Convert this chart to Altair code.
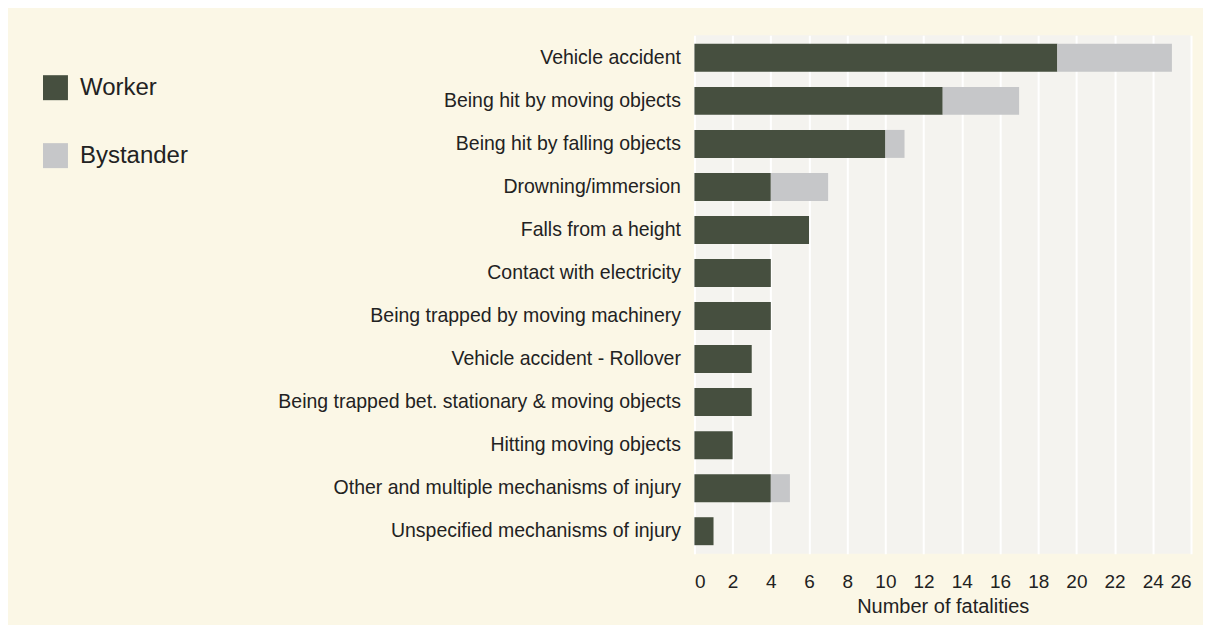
import altair as alt
import pandas as pd

categories = [
    "Vehicle accident",
    "Being hit by moving objects",
    "Being hit by falling objects",
    "Drowning/immersion",
    "Falls from a height",
    "Contact with electricity",
    "Being trapped by moving machinery",
    "Vehicle accident - Rollover",
    "Being trapped bet. stationary & moving objects",
    "Hitting moving objects",
    "Other and multiple mechanisms of injury",
    "Unspecified mechanisms of injury",
]
worker = [19, 13, 10, 4, 6, 4, 4, 3, 3, 2, 4, 1]
bystander = [6, 4, 1, 3, 0, 0, 0, 0, 0, 0, 1, 0]
x_ticks = list(range(0, 27, 2))

rows = []
for c, w, b in zip(categories, worker, bystander):
    rows.append({"category": c, "type": "Worker", "value": w, "ord": 0})
    rows.append({"category": c, "type": "Bystander", "value": b, "ord": 1})
df = pd.DataFrame(rows)

FONT = "Liberation Sans"

chart = alt.Chart(df).mark_bar().encode(
    y=alt.Y("category:N", sort=categories, title=None,
            scale=alt.Scale(paddingInner=0.35, paddingOuter=0.2),
            axis=alt.Axis(labelFontSize=19.5, labelColor="#222222", labelPadding=14,
                          ticks=False, domain=False, labelFont=FONT,
                          labelLimit=600)),
    x=alt.X("value:Q", stack="zero", title="Number of fatalities",
            scale=alt.Scale(domain=[0, 26], nice=False),
            axis=alt.Axis(values=x_ticks, labelFontSize=19, labelColor="#222222",
                          labelPadding=19, ticks=False, domain=False,
                          grid=True, gridColor="#ffffff", gridWidth=2,
                          titleFontSize=20, titleFontWeight="normal",
                          titleColor="#222222", titlePadding=5,
                          labelFont=FONT, titleFont=FONT)),
    color=alt.Color("type:N", sort=["Worker", "Bystander"],
                    scale=alt.Scale(domain=["Worker", "Bystander"],
                                    range=["#464f3f", "#c6c7c9"]),
                    legend=alt.Legend(title=None, orient="none", legendX=-652, legendY=40,
                                      symbolType="square", symbolSize=625,
                                      symbolStrokeWidth=0, symbolOpacity=1,
                                      labelFontSize=24, labelColor="#222222",
                                      labelFont=FONT, labelLimit=300,
                                      rowPadding=43, labelOffset=12)),
    order=alt.Order("ord:Q"),
).properties(
    width=497, height=519,
    background="#fbf7e6",
    padding={"left": 687, "top": 27, "right": 12, "bottom": 71},
    autosize=alt.AutoSizeParams(type="none"),
).configure_view(fill="#f4f3ef", stroke=None)

chart.save("out.html", embed_options={"renderer": "svg", "actions": False})
